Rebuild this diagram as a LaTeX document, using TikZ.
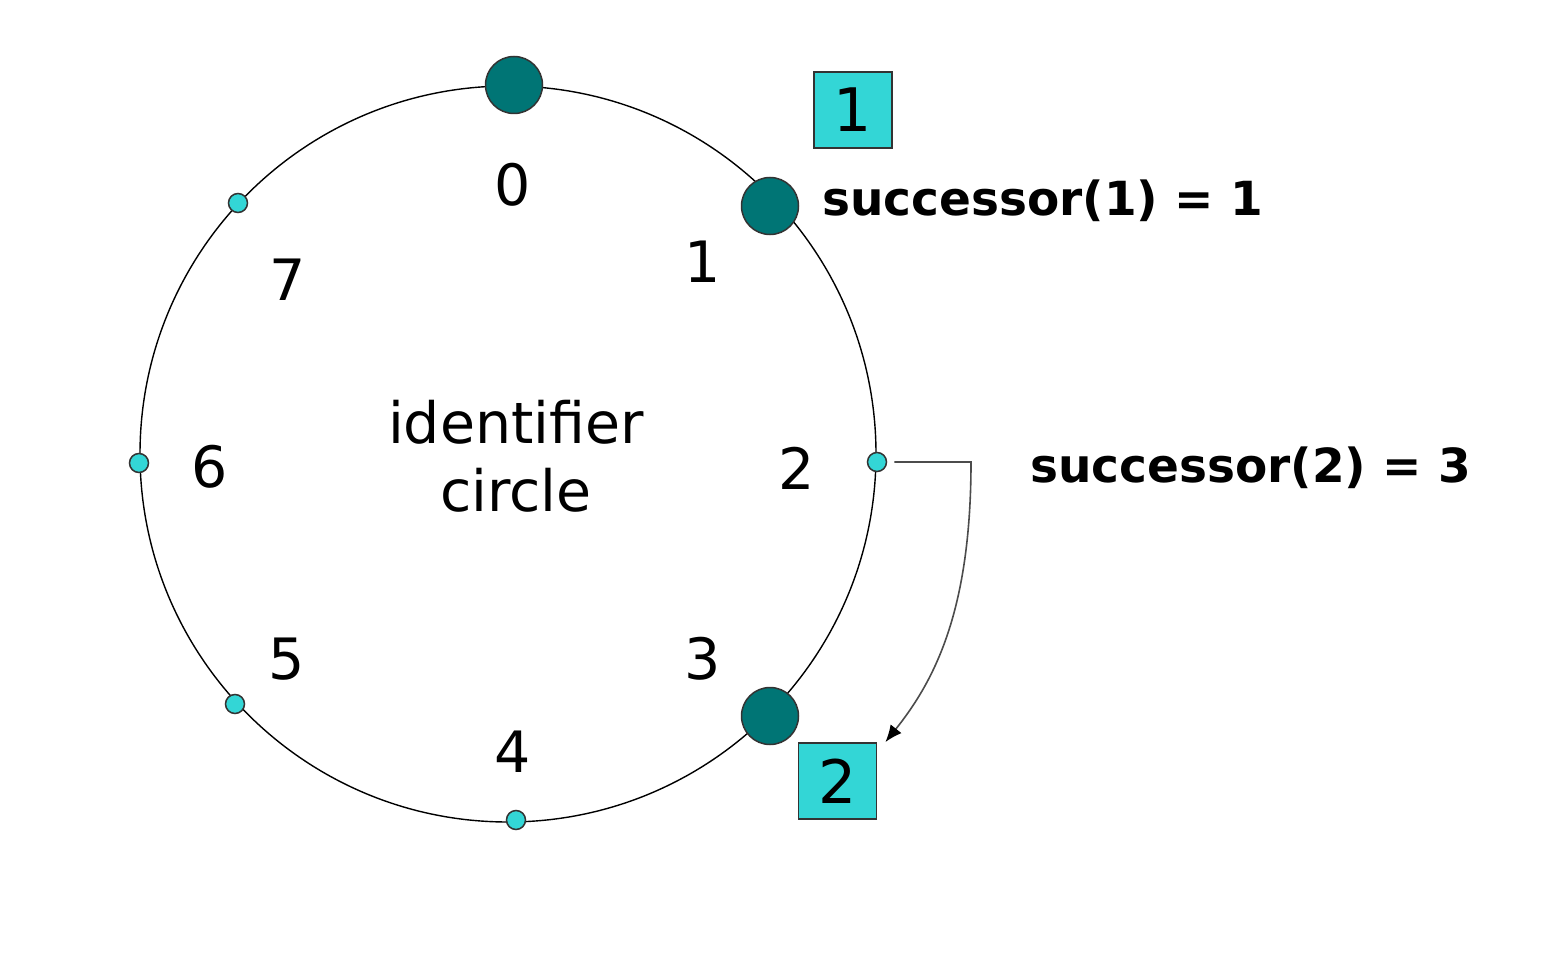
\documentclass[tikz,border=0pt]{standalone}
\usepackage{fontspec}
\setmainfont{DejaVu Sans}
\usetikzlibrary{arrows.meta}
\definecolor{teal1}{HTML}{007575}
\definecolor{cyan1}{HTML}{33D6D6}
\definecolor{edge1}{HTML}{333333}
\tikzset{
  bignode/.style={circle, fill=teal1, draw=edge1, line width=1.5pt, minimum size=57pt, inner sep=0pt},
  smallnode/.style={circle, fill=cyan1, draw=edge1, line width=1.5pt, minimum size=19pt, inner sep=0pt},
  idlabel/.style={font=\fontsize{57}{68}\selectfont, inner sep=0pt},
  keybox/.style={draw=edge1, fill=cyan1, line width=1.8pt, minimum width=78pt, minimum height=76pt, inner sep=0pt, font=\fontsize{60}{70}\selectfont},
  succtext/.style={font=\fontsize{47}{56}\selectfont\bfseries, inner sep=0pt, anchor=base west},
  ring/.style={line width=1.4pt, black},
  succarrow/.style={line width=1.6pt, draw=black!70, -{Latex[length=17pt,width=14pt,color=black]}}
}
\begin{document}
\begin{tikzpicture}[x=1pt,y=-1pt]
\useasboundingbox[fill=white] (0,0) rectangle (1558,960);
\coordinate (center) at (508,454);
\draw[ring] (center) circle[radius=368pt];
% peers
\node[bignode] (n0) at (514,85) {};
\node[bignode] (n1) at (770,206) {};
\node[bignode] (n3) at (770,716) {};
% empty identifiers
\node[smallnode] (n7) at (238,203) {};
\node[smallnode] (n6) at (139,463) {};
\node[smallnode] (n5) at (235,704) {};
\node[smallnode] (n4) at (516,820) {};
\node[smallnode] (n2) at (877,462) {};
% identifier labels
\node[idlabel] (l0) at (513,185) {0};
\node[idlabel] (l1) at (703,262) {1};
\node[idlabel] (l2) at (797,468) {2};
\node[idlabel] (l3) at (703,659) {3};
\node[idlabel] (l4) at (513,752) {4};
\node[idlabel] (l5) at (287,659) {5};
\node[idlabel] (l6) at (210,467) {6};
\node[idlabel] (l7) at (288,280) {7};
\node[idlabel, align=center] (title) at (516,456) {identifier\\circle};
% keys
\node[keybox] (k1) at (853,110) {1};
\node[keybox] (k2) at (837.5,781) {2};
% successor texts
\node[succtext] (s1) at (822,215) {successor(1) = 1};
\node[succtext] (s2) at (1030,482) {successor(2) = 3};
% arrow
\coordinate (bend) at (971,462);
\draw[succarrow] ([xshift=7pt]n2.east) -- (bend) .. controls (971,610) and (935,680) .. ([xshift=8pt]k2.north east);
\end{tikzpicture}
\end{document}
